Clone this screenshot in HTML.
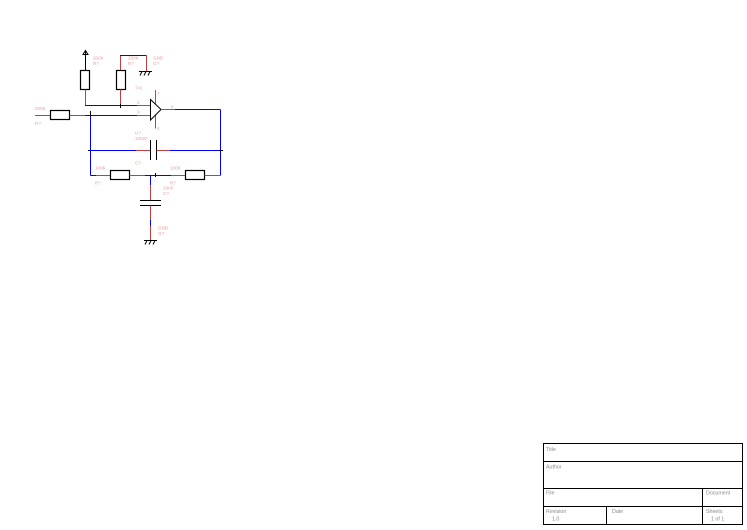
<!DOCTYPE html>
<html><head><meta charset="utf-8"><style>
html,body{margin:0;padding:0;background:#fff;}
svg{display:block;}
.l{font-family:"Liberation Sans",sans-serif;font-size:4.6px;fill:#e4a0a0;}
.t{font-family:"Liberation Sans",sans-serif;font-size:5.3px;fill:#8a8a8a;}
</style></head><body>
<svg width="747" height="530" viewBox="0 0 747 530" xmlns="http://www.w3.org/2000/svg">
<g fill="none" stroke-width="1">
<!-- power arrow -->
<line x1="85.5" y1="51" x2="85.5" y2="70.5" stroke="#000"/>
<polygon points="83,54.5 85.5,50.5 88,54.5" stroke="#000"/>
<!-- R top-left -->
<rect x="80.5" y="70.5" width="9" height="19" stroke="#000" stroke-width="1.2" fill="#fff"/>
<line x1="85.5" y1="89.5" x2="85.5" y2="105.5" stroke="#c04040"/>
<!-- R top-right -->
<line x1="120.5" y1="55.5" x2="120.5" y2="70.5" stroke="#c04040"/>
<rect x="116.5" y="70.5" width="9" height="19" stroke="#000" stroke-width="1.2" fill="#fff"/>
<line x1="120.5" y1="89.5" x2="120.5" y2="105.5" stroke="#c04040"/>
<line x1="120" y1="55.5" x2="146.5" y2="55.5" stroke="#0000ff"/>
<line x1="146.5" y1="55.5" x2="146.5" y2="71.5" stroke="#c04040"/>
<!-- top ground -->
<line x1="139" y1="71.5" x2="152" y2="71.5" stroke="#000"/>
<line x1="142" y1="71.5" x2="140" y2="75.5" stroke="#000"/>
<line x1="146" y1="71.5" x2="144" y2="75.5" stroke="#000"/>
<line x1="150" y1="71.5" x2="148" y2="75.5" stroke="#000"/>
<!-- pin2 net -->
<line x1="85" y1="105.5" x2="137" y2="105.5" stroke="#0000ff"/>
<line x1="137" y1="105.5" x2="150.5" y2="105.5" stroke="#c04040"/>
<line x1="120.5" y1="104" x2="120.5" y2="108" stroke="#000"/>
<!-- input -->
<line x1="35" y1="115.5" x2="50.5" y2="115.5" stroke="#c04040"/>
<rect x="50.5" y="110.5" width="19" height="9" stroke="#000" stroke-width="1.2" fill="#fff"/>
<line x1="69.5" y1="115.5" x2="85" y2="115.5" stroke="#c04040"/>
<line x1="85" y1="115.5" x2="137" y2="115.5" stroke="#0000ff"/>
<line x1="137" y1="115.5" x2="150.5" y2="115.5" stroke="#c04040"/>
<line x1="90.5" y1="115.5" x2="90.5" y2="175.5" stroke="#0000ff"/>
<line x1="90.5" y1="111" x2="90.5" y2="116" stroke="#000"/>
<!-- opamp -->
<line x1="155.5" y1="90" x2="155.5" y2="104" stroke="#c04040"/>
<line x1="155.5" y1="115" x2="155.5" y2="128.5" stroke="#c04040"/>
<polygon points="150.5,99.5 161,109.5 150.5,120" stroke="#000" fill="#fff"/>
<line x1="161" y1="109.5" x2="175" y2="109.5" stroke="#c04040"/>
<line x1="175" y1="109.5" x2="220.5" y2="109.5" stroke="#0000ff"/>
<line x1="220.5" y1="109.5" x2="220.5" y2="175.5" stroke="#0000ff"/>
<!-- feedback cap -->
<line x1="89" y1="150.5" x2="136" y2="150.5" stroke="#0000ff"/>
<line x1="136" y1="150.5" x2="150.5" y2="150.5" stroke="#c04040"/>
<line x1="150.5" y1="140" x2="150.5" y2="160" stroke="#000"/>
<line x1="156.5" y1="140" x2="156.5" y2="160" stroke="#000"/>
<line x1="156.5" y1="150.5" x2="170" y2="150.5" stroke="#c04040"/>
<line x1="170" y1="150.5" x2="221" y2="150.5" stroke="#0000ff"/>
<line x1="88" y1="150.5" x2="90" y2="150.5" stroke="#000"/>
<line x1="220" y1="150.5" x2="223" y2="150.5" stroke="#000"/>
<!-- bottom resistors -->
<line x1="90.5" y1="175.5" x2="96" y2="175.5" stroke="#0000ff"/>
<line x1="96" y1="175.5" x2="110.5" y2="175.5" stroke="#c04040"/>
<rect x="110.5" y="170.5" width="19" height="9" stroke="#000" stroke-width="1.2" fill="#fff"/>
<line x1="129.5" y1="175.5" x2="145" y2="175.5" stroke="#c04040"/>
<line x1="145" y1="175.5" x2="171" y2="175.5" stroke="#0000ff"/>
<line x1="171" y1="175.5" x2="185.5" y2="175.5" stroke="#c04040"/>
<rect x="185.5" y="170.5" width="19" height="9" stroke="#000" stroke-width="1.2" fill="#fff"/>
<line x1="204.5" y1="175.5" x2="220.5" y2="175.5" stroke="#c04040"/>
<line x1="155.5" y1="173" x2="155.5" y2="177" stroke="#000"/>
<!-- bottom cap -->
<line x1="150.5" y1="175.5" x2="150.5" y2="185" stroke="#0000ff"/>
<line x1="150.5" y1="185" x2="150.5" y2="200.5" stroke="#c04040"/>
<line x1="140" y1="200.5" x2="161" y2="200.5" stroke="#000"/>
<line x1="140" y1="205.5" x2="161" y2="205.5" stroke="#000"/>
<line x1="150.5" y1="205.5" x2="150.5" y2="220" stroke="#c04040"/>
<line x1="150.5" y1="220" x2="150.5" y2="226" stroke="#0000ff"/>
<line x1="150.5" y1="226" x2="150.5" y2="240.5" stroke="#c04040"/>
<line x1="144" y1="240.5" x2="157" y2="240.5" stroke="#000"/>
<line x1="147" y1="240.5" x2="145" y2="244.5" stroke="#000"/>
<line x1="151" y1="240.5" x2="149" y2="244.5" stroke="#000"/>
<line x1="155" y1="240.5" x2="153" y2="244.5" stroke="#000"/>
<!-- title block -->
<rect x="543.5" y="443.5" width="199" height="81" stroke="#000"/>
<line x1="543.5" y1="461.5" x2="742.5" y2="461.5" stroke="#000"/>
<line x1="543.5" y1="488.5" x2="742.5" y2="488.5" stroke="#000"/>
<line x1="543.5" y1="506.5" x2="742.5" y2="506.5" stroke="#000"/>
<line x1="702.5" y1="488.5" x2="702.5" y2="524.5" stroke="#000"/>
<line x1="606.5" y1="506.5" x2="606.5" y2="524.5" stroke="#000"/>
</g>
<!-- labels -->
<text class="l" x="93" y="59.5">200K</text>
<text class="l" x="93" y="65">R?</text>
<text class="l" x="128" y="59.5">200K</text>
<text class="l" x="128" y="65">R?</text>
<text class="l" x="153" y="59.5">GND</text>
<text class="l" x="153" y="65">G?</text>
<text class="l" x="35" y="110">200K</text>
<text class="l" x="35" y="125">R?</text>
<text class="l" x="135" y="89.5">741</text>
<text class="l" x="137" y="104">2</text>
<text class="l" x="137" y="113.5">3</text>
<text class="l" x="171" y="108.5">6</text>
<text class="l" x="157" y="95">7</text>
<text class="l" x="157" y="130">4</text>
<text class="l" x="135" y="134.5">U?</text>
<text class="l" x="135" y="140">100nF</text>
<text class="l" x="135" y="164.5">C?</text>
<text class="l" x="95" y="169.5">100K</text>
<text class="l" x="95" y="184.5">R?</text>
<text class="l" x="170" y="169.5">100K</text>
<text class="l" x="170" y="184.5">R?</text>
<text class="l" x="163" y="189.5">10nF</text>
<text class="l" x="163" y="195">C?</text>
<text class="l" x="158" y="229.5">GND</text>
<text class="l" x="158" y="235">G?</text>
<!-- title block text -->
<text class="t" x="546" y="451">Title</text>
<text class="t" x="546" y="468.5">Author</text>
<text class="t" x="546" y="494.5">File</text>
<text class="t" x="706" y="494.5">Document</text>
<text class="t" x="546" y="513">Revision</text>
<text class="t" x="552" y="520.5">1.0</text>
<text class="t" x="612" y="513">Date</text>
<text class="t" x="706" y="513">Sheets</text>
<text class="t" x="711" y="520.5">1 of 1</text>
</svg>
</body></html>
